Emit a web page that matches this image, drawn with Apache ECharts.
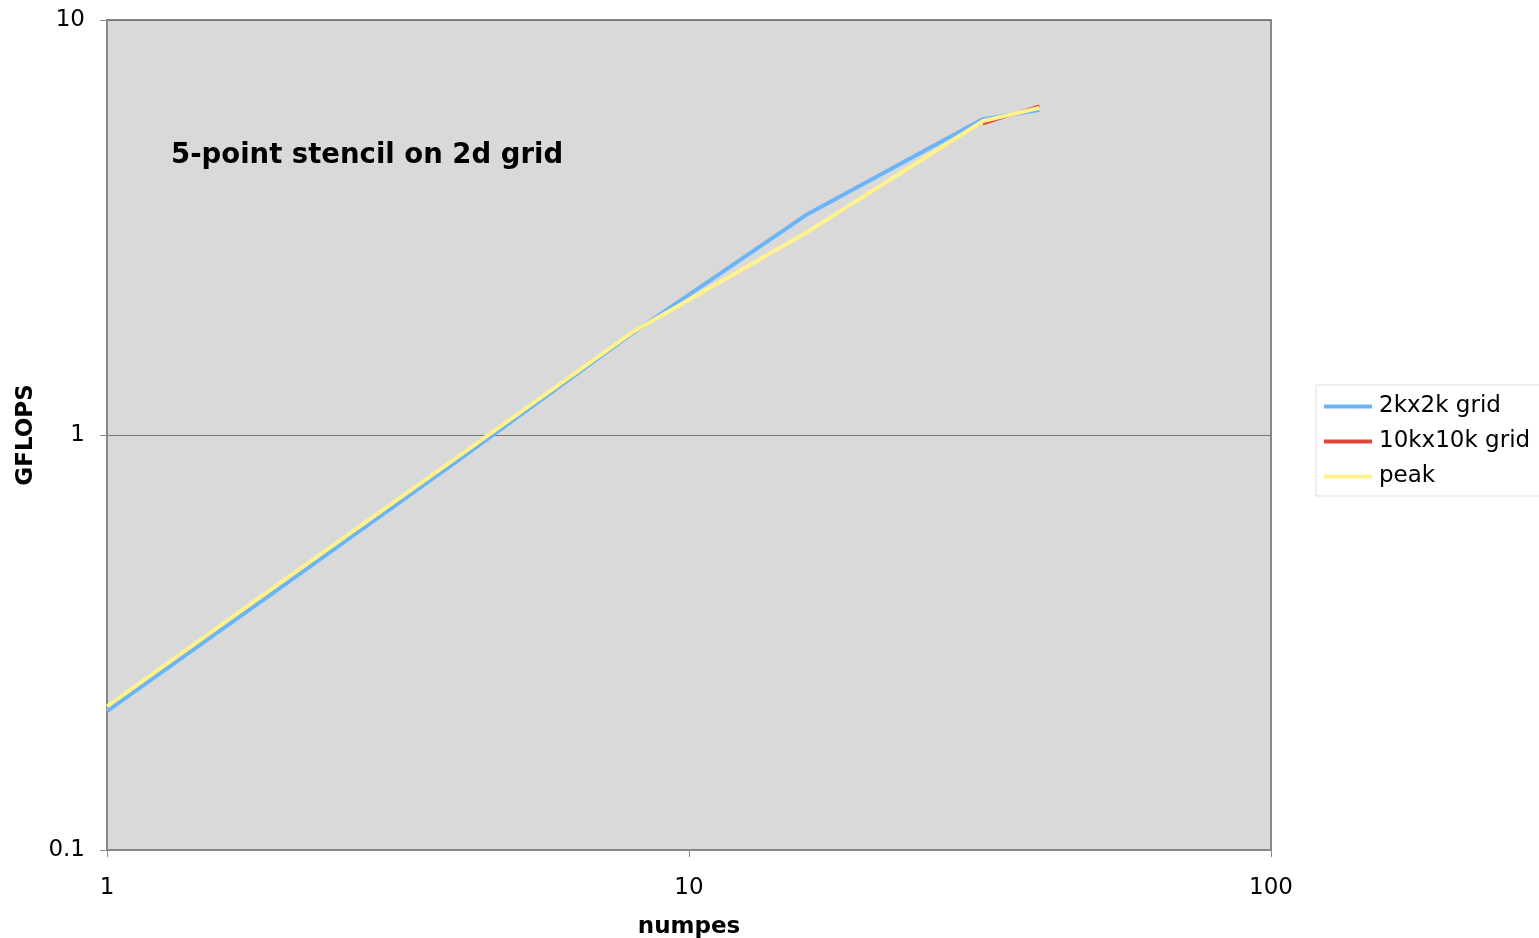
<!DOCTYPE html>
<html><head><meta charset="utf-8">
<script src="https://cdn.jsdelivr.net/npm/echarts@6/dist/echarts.min.js"></script>
<style>html,body{margin:0;padding:0;background:#fff}#c{width:1539px;height:938px}</style>
</head><body><div id="c"></div>
<script>
const numpes = [1, 2, 4, 8, 16, 32, 40];
const grid2k = [0.216, 0.432, 0.866, 1.76, 3.41, 5.77, 6.07];
const grid10k = [null, null, null, null, null, 5.62, 6.21];
const peak = [0.222, 0.444, 0.885, 1.77, 3.09, 5.71, 6.14];
const seriesNames = ['2kx2k grid', '10kx10k grid', 'peak'];
const titleText = '5-point stencil on 2d grid';
const FONT = 'DejaVu Sans';

const chart = echarts.init(document.getElementById('c'));
const pair = arr => numpes.map((x, i) => [x, arr[i]]).filter(p => p[1] !== null);
const colors = ['#6cb4f8', '#e2463b', '#fff28c'];
chart.setOption({
  animation: false,
  title: { text: titleText, left: 166, top: 137, textStyle: { fontFamily: FONT, fontSize: 27.5, fontWeight: 'bold', color: '#000' } },
  grid: { left: 107, right: 268, top: 20, bottom: 88, outerBoundsMode: 'none', containLabel: false, show: true, backgroundColor: '#d9d9d9', borderColor: '#888', borderWidth: 2 },
  legend: {
    orient: 'vertical', left: 1316, top: 385, data: seriesNames,
    icon: 'rect', itemWidth: 48, itemHeight: 4, itemGap: 12,
    backgroundColor: '#fff', borderColor: '#ddd', borderWidth: 1, padding: [10, 12, 8, 8],
    textStyle: { fontFamily: FONT, fontSize: 23, color: '#000', padding: [0, 0, 0, 2] }
  },
  xAxis: {
    type: 'log', logBase: 10, min: 1, max: 100,
    name: 'numpes', nameLocation: 'middle', nameGap: 66,
    nameTextStyle: { fontFamily: FONT, fontSize: 23, fontWeight: 'bold', color: '#000' },
    axisLine: { show: true, lineStyle: { color: '#888', width: 2 } },
    axisTick: { show: true, length: 7, lineStyle: { color: '#888' } },
    splitLine: { show: false },
    axisLabel: { fontFamily: FONT, fontSize: 23, color: '#000', margin: 27 }
  },
  yAxis: {
    type: 'log', logBase: 10, min: 0.1, max: 10,
    name: 'GFLOPS', nameLocation: 'middle', nameGap: 68, nameRotate: 90,
    nameTextStyle: { fontFamily: FONT, fontSize: 23, fontWeight: 'bold', color: '#000' },
    axisLine: { show: true, lineStyle: { color: '#888', width: 2 } },
    axisTick: { show: true, length: 7, lineStyle: { color: '#888' } },
    splitLine: { show: true, lineStyle: { color: '#777', width: 1 } },
    axisLabel: { fontFamily: FONT, fontSize: 23, color: '#000', margin: 22 }
  },
  series: [
    { name: seriesNames[0], type: 'line', data: pair(grid2k), showSymbol: false, color: colors[0], lineStyle: { width: 4, color: colors[0] } },
    { name: seriesNames[1], type: 'line', data: pair(grid10k), showSymbol: false, color: colors[1], lineStyle: { width: 3, color: colors[1] } },
    { name: seriesNames[2], type: 'line', data: pair(peak), showSymbol: false, color: colors[2], lineStyle: { width: 4, color: colors[2] } }
  ]
});
</script></body></html>
